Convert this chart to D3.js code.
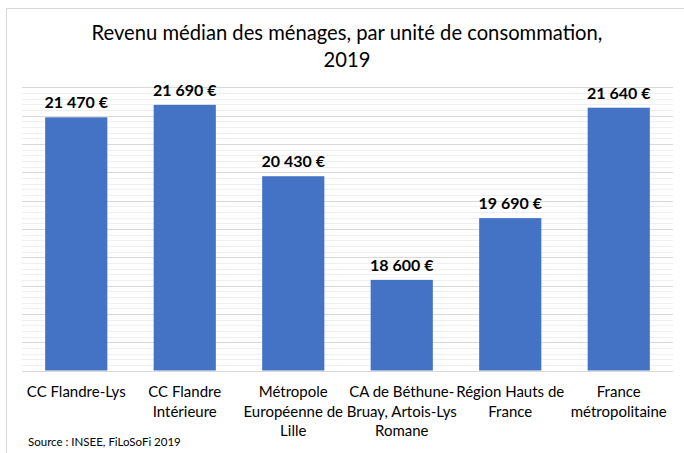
<!DOCTYPE html>
<html><head><meta charset="utf-8">
<script src="https://cdn.jsdelivr.net/npm/d3@7/dist/d3.min.js"></script>
<style>body{margin:0;background:#fff}svg{display:block}</style>
</head><body>
<svg id="c" width="684" height="453"></svg>
<script>
const categories = ["CC Flandre-Lys","CC Flandre\nIntérieure","Métropole\nEuropéenne de\nLille","CA de Béthune-\nBruay, Artois-Lys\nRomane","Région Hauts de\nFrance","France\nmétropolitaine"];
const values = [21470, 21690, 20430, 18600, 19690, 21640];
const valueLabels = ["21 470 €","21 690 €","20 430 €","18 600 €","19 690 €","21 640 €"];
const titleLines = ["Revenu médian des ménages, par unité de consommation,","2019"];
const source = "Source : INSEE, FiLoSoFi 2019";
const yDomain = [17000, 22000];

const font = "Lato, 'Open Sans', sans-serif";
const svg = d3.select("#c");
svg.append("rect").attr("x",6.5).attr("y",8.5).attr("width",690).attr("height",460)
  .attr("fill","#fff").attr("stroke","#d9d9d9");

const L=22, R=673, T=87.3, B=370.5;
const x = d3.scaleBand().domain(categories).range([L,R]).paddingInner(0.427).paddingOuter(0.2135);
const y = d3.scaleLinear().domain(yDomain).range([B,T]);

const minor = d3.range(yDomain[0], yDomain[1]+1, 100);
svg.append("g").selectAll("line").data(minor.filter(v=>v%500!==0)).join("line")
  .attr("x1",L).attr("x2",R).attr("y1",d=>Math.round(y(d))+0.5).attr("y2",d=>Math.round(y(d))+0.5)
  .attr("stroke","#efefef").attr("stroke-width",1);
svg.append("g").selectAll("line").data(minor.filter(v=>v%500===0 && v>yDomain[0])).join("line")
  .attr("x1",L).attr("x2",R).attr("y1",d=>Math.round(y(d))+0.5).attr("y2",d=>Math.round(y(d))+0.5)
  .attr("stroke","#d9d9d9").attr("stroke-width",1);

svg.append("g").selectAll("rect").data(values).join("rect")
  .attr("x",(d,i)=>x(categories[i])).attr("width",x.bandwidth())
  .attr("y",d=>y(d)).attr("height",d=>B-y(d)).attr("fill","#4472c4");

svg.append("line").attr("x1",L).attr("x2",R).attr("y1",Math.round(B)+0.5).attr("y2",Math.round(B)+0.5)
  .attr("stroke","#d9d9d9");

svg.append("g").selectAll("text").data(values).join("text")
  .attr("x",(d,i)=>x(categories[i])+x.bandwidth()/2).attr("y",d=>y(d)-9)
  .attr("text-anchor","middle").attr("font-family",font).attr("font-weight","bold")
  .attr("font-size",16).attr("fill","#000").text((d,i)=>valueLabels[i]);

const cat = svg.append("g").selectAll("text").data(categories).join("text")
  .attr("text-anchor","middle").attr("font-family",font).attr("font-size",15).attr("fill","#000");
cat.each(function(d){
  const t=d3.select(this), cx=x(d)+x.bandwidth()/2;
  d.split("\n").forEach((s,j)=>t.append("tspan").attr("x",cx).attr("y",397+j*19.5).text(s));
});

svg.append("g").selectAll("text").data(titleLines).join("text")
  .attr("x",347).attr("y",(d,i)=>40+i*27).attr("text-anchor","middle")
  .attr("font-family",font).attr("font-size",20.2).attr("fill","#000").text(d=>d);

svg.append("text").attr("x",28).attr("y",446).attr("font-family",font).attr("font-size",11.5)
  .attr("fill","#000").text(source);
</script>
</body></html>
